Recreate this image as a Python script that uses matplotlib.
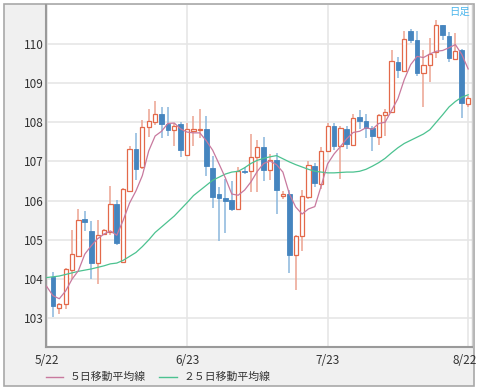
import numpy as np
import matplotlib.pyplot as plt
from matplotlib.patches import Rectangle
from matplotlib.lines import Line2D
import matplotlib.transforms as mtransforms

plt.rcParams['font.family'] = ['Noto Sans CJK JP', 'DejaVu Sans']

# daily candles (66 trading days)
opens = [104.06, 103.27, 103.36, 104.23, 104.60, 105.53, 105.23, 104.40, 105.15, 105.21,
         105.92, 104.44, 106.26, 107.33, 106.85, 107.87, 108.00, 108.21, 107.96, 107.80,
         107.95, 107.16, 107.79, 107.80, 107.82, 106.83, 106.16, 106.08, 106.01, 105.80,
         106.76, 106.75, 107.12, 107.37, 106.78, 107.05, 106.12, 106.17, 104.62, 105.09,
         106.09, 106.89, 106.43, 107.28, 107.91, 107.39, 107.83, 107.43, 108.13, 108.03,
         107.86, 107.62, 108.19, 108.27, 109.53, 109.31, 110.33, 110.09, 109.26, 109.45,
         109.78, 110.47, 110.20, 109.62, 109.84, 108.46]
highs = [104.19, 103.40, 104.28, 105.25, 105.80, 105.75, 105.48, 105.51, 105.29, 106.37,
         106.02, 106.32, 107.40, 107.73, 108.05, 108.33, 108.54, 108.38, 108.40, 107.97,
         108.01, 107.99, 108.15, 108.33, 108.15, 107.15, 106.35, 106.56, 106.50, 106.87,
         106.87, 107.70, 107.55, 107.62, 107.19, 107.22, 106.25, 106.28, 105.13, 106.27,
         107.02, 106.96, 107.36, 107.97, 107.97, 107.91, 107.91, 108.21, 108.32, 108.20,
         107.90, 108.22, 108.34, 109.84, 109.67, 110.32, 110.38, 110.33, 109.85, 110.15,
         110.62, 110.48, 110.30, 110.27, 109.86, 108.68]
lows = [103.04, 103.11, 103.23, 104.00, 104.58, 105.23, 104.00, 103.88, 105.12, 105.12,
        104.86, 104.44, 106.22, 106.54, 106.80, 107.63, 107.93, 107.59, 107.65, 107.40,
        107.12, 107.14, 107.40, 107.60, 106.62, 105.82, 104.97, 105.18, 105.75, 105.77,
        106.68, 106.22, 106.22, 106.50, 106.53, 105.66, 106.05, 104.15, 103.73, 104.73,
        106.05, 106.35, 106.30, 107.25, 107.29, 106.56, 107.32, 107.40, 107.83, 107.60,
        107.26, 107.42, 107.64, 108.25, 109.12, 109.28, 110.02, 109.19, 108.38, 109.02,
        109.65, 110.11, 109.54, 109.58, 108.10, 108.40]
closes = [103.32, 103.36, 104.25, 104.64, 105.52, 105.45, 104.40, 105.12, 105.25, 105.91,
          104.91, 106.29, 107.33, 106.80, 107.87, 108.04, 108.20, 107.95, 107.80, 107.91,
          107.29, 107.82, 107.82, 107.83, 106.88, 106.09, 106.08, 106.00, 105.80, 106.75,
          106.72, 107.12, 107.37, 106.78, 107.04, 106.27, 106.17, 104.62, 105.11, 106.13,
          106.92, 106.45, 107.28, 107.90, 107.39, 107.86, 107.45, 108.11, 108.04, 107.86,
          107.66, 108.18, 108.25, 109.57, 109.33, 110.12, 110.10, 109.26, 109.45, 109.75,
          110.47, 110.22, 109.63, 109.82, 108.50, 108.63]

# moving averages, starting one day before the first visible candle
ma5 = [103.82, 103.58, 103.50, 103.70, 104.00, 104.22, 104.64, 104.85, 105.03, 105.15,
       105.23, 105.12, 105.50, 105.94, 106.25, 106.64, 107.27, 107.65, 107.77, 107.97,
       107.98, 107.83, 107.75, 107.73, 107.73, 107.53, 107.29, 106.94, 106.58, 106.17,
       106.14, 106.27, 106.48, 106.75, 106.95, 107.01, 106.92, 106.73, 106.18, 105.84,
       105.66, 105.79, 105.85, 106.38, 106.94, 107.19, 107.38, 107.58, 107.74, 107.77,
       107.86, 107.82, 107.97, 108.00, 108.30, 108.60, 109.09, 109.47, 109.68, 109.65,
       109.74, 109.81, 109.83, 109.90, 109.98, 109.73, 109.36]
ma25 = [104.04, 104.06, 104.08, 104.12, 104.16, 104.20, 104.23, 104.26, 104.30, 104.34,
        104.39, 104.41, 104.48, 104.58, 104.68, 104.83, 105.00, 105.19, 105.33, 105.47,
        105.61, 105.78, 105.95, 106.13, 106.26, 106.39, 106.52, 106.60, 106.68, 106.73,
        106.75, 106.84, 106.95, 107.03, 107.08, 107.12, 107.15, 107.07, 106.99, 106.92,
        106.86, 106.80, 106.75, 106.73, 106.71, 106.71, 106.72, 106.73, 106.73, 106.75,
        106.80, 106.88, 106.97, 107.08, 107.22, 107.35, 107.46, 107.54, 107.62, 107.70,
        107.81, 108.00, 108.19, 108.39, 108.53, 108.64, 108.70]

date_labels = ["5/22", "6/23", "7/23", "8/22"]
date_pos = [-1, 21, 43, 65]
y_ticks = [103, 104, 105, 106, 107, 108, 109, 110]

W, H = 478, 392
RED, RED_WICK = '#e3694a', '#eca391'
BLUE, BLUE_WICK = '#4585bf', '#8ab6dc'
TXT = '#333333'

fig = plt.figure(figsize=(W / 100, H / 100), dpi=100)
fig.patch.set_facecolor('white')

# outer grey frame, behind the axes
frame = Rectangle((4 / W, 1 - 386 / H), 470 / W, 382 / H,
                  transform=fig.transFigure, facecolor='#f0f0f0',
                  edgecolor='#a8a8a8', linewidth=1.2, zorder=-10)
fig.add_artist(frame)

ax = fig.add_axes([46 / W, 1 - 347 / H, 426 / W, 342 / H])
ax.set_facecolor('white')

x = np.arange(len(closes))
o = np.array(opens)
c = np.array(closes)
up = c >= o

ax.vlines(x[up], np.array(lows)[up], np.array(highs)[up], color=RED_WICK, lw=1.1, zorder=2)
ax.vlines(x[~up], np.array(lows)[~up], np.array(highs)[~up], color=BLUE_WICK, lw=1.1, zorder=2)

body = np.maximum(np.abs(c - o), 0.04)
bottom = np.minimum(o, c)
ax.bar(x[up], body[up], bottom=bottom[up], width=0.66, facecolor='white',
       edgecolor=RED, linewidth=0.9, zorder=3)
ax.bar(x[~up], body[~up], bottom=bottom[~up], width=0.74, facecolor=BLUE,
       edgecolor=BLUE, linewidth=0.6, zorder=3)

xm = np.arange(-1, len(closes))
ax.plot(xm, ma25, color='#4cc290', lw=0.9, zorder=4)
ax.plot(xm, ma5, color='#c8799e', lw=0.9, zorder=4)

ax.set_xlim(-1.08, 65.6)
ax.set_ylim(102.27, 110.99)

ax.set_yticks(y_ticks)
ax.set_yticklabels([str(v) for v in y_ticks])
ax.set_xticks(date_pos)
ax.set_xticklabels(date_labels)
ax.tick_params(axis='both', length=0, colors=TXT, labelsize=8.5)
ax.tick_params(axis='y', pad=1.5)
ax.tick_params(axis='x', pad=5)
last = ax.get_xticklabels()[-1]
last.set_horizontalalignment('right')
last.set_transform(last.get_transform() +
                   mtransforms.ScaledTranslation(6 / 72, 0, fig.dpi_scale_trans))

ax.grid(True, color='#e6e6e6', lw=1.2, zorder=0)
ax.set_axisbelow(True)

for side in ['left', 'bottom']:
    ax.spines[side].set_color('#9a9a9a')
    ax.spines[side].set_linewidth(1.5)
ax.spines['top'].set_visible(False)
ax.spines['right'].set_color('#d0d0d0')
ax.spines['right'].set_linewidth(1.0)

ax.text(0.995, 0.995, '日足', transform=ax.transAxes, ha='right', va='top',
        color='#4db6ec', fontsize=7.5)

# legend row
ly = 1 - 377 / H
fig.add_artist(Line2D([46 / W, 63 / W], [ly, ly], transform=fig.transFigure,
                      color='#c8799e', lw=1.0))
fig.text(70 / W, ly, '５日移動平均線', ha='left', va='center', color=TXT, fontsize=7.8)
fig.add_artist(Line2D([159 / W, 177 / W], [ly, ly], transform=fig.transFigure,
                      color='#4cc290', lw=1.0))
fig.text(183 / W, ly, '２５日移動平均線', ha='left', va='center', color=TXT, fontsize=7.8)

fig.savefig('out.png', dpi=100)
